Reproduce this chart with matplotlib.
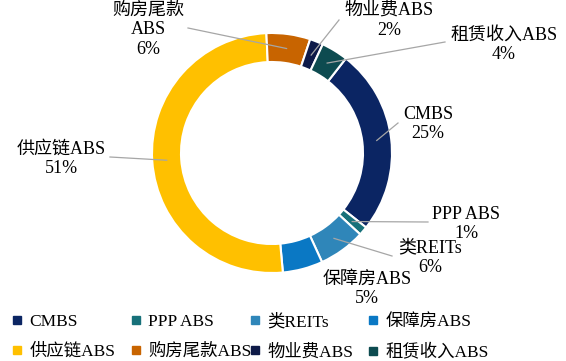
import numpy as np
import matplotlib
matplotlib.use("Agg")
import matplotlib.pyplot as plt
from matplotlib.lines import Line2D

W, H = 566, 361
FONT = ["Liberation Serif", "Noto Sans CJK SC"]
plt.rcParams["font.family"] = FONT

# data (share of issuance, %)
categories = ["CMBS", "PPP ABS", "类REITs", "保障房ABS",
              "供应链ABS", "购房尾款ABS", "物业费ABS", "租赁收入ABS"]
values = [25.1, 1.2, 6.3, 5.4, 50.7, 5.9, 1.8, 3.6]
colors = ["#0B2563", "#17717A", "#2F86B9", "#0A78C4",
          "#FFC000", "#C86400", "#0E1A48", "#0D4B50"]

# label layout in pixel coords: text block centre and leader line start
label_text_pos = [(428, 124), (466, 224), (430, 258), (367, 289),
                  (61, 159), (148, 30), (389, 21), (504, 45)]
label_line_pos = [(398, 123), (428, 222), (392, 256), None,
                  (110, 157), (188, 28), (339, 20), (445, 42)]
label_breaks = {"购房尾款ABS": "购房尾款\nABS"}

CX, CY = 272, 153
R_OUT, RING = 120, 29


def to_ax(x, y):
    return x, H - y


fig = plt.figure(figsize=(W / 100, H / 100), dpi=100)
ax = fig.add_axes([0, 0, 1, 1])

wedges, _ = ax.pie(values, colors=colors, startangle=52, counterclock=False,
                   radius=R_OUT, center=to_ax(CX, CY),
                   wedgeprops=dict(width=RING, edgecolor="white", linewidth=1.5))
ax.set_xlim(0, W)
ax.set_ylim(0, H)
ax.set_aspect("equal")
ax.axis("off")

total = sum(values)
r_mid = R_OUT - RING / 2
for w, name, v, tpos, lpos in zip(wedges, categories, values,
                                  label_text_pos, label_line_pos):
    mid = np.deg2rad((w.theta1 + w.theta2) / 2)
    px = CX + r_mid * np.cos(mid)
    py = CY - r_mid * np.sin(mid)
    if lpos is not None:
        x0, y0 = to_ax(*lpos)
        x1, y1 = to_ax(px, py)
        ax.plot([x0, x1], [y0, y1], color="#A6A6A6", lw=0.9, zorder=3)
    txt = label_breaks.get(name, name) + f"\n{v / total * 100:.0f}%"
    ax.text(*to_ax(*tpos), txt, ha="center", va="center", fontsize=13,
            linespacing=1.2, color="black", zorder=4)

# legend: 4 columns x 2 rows
col_x = [12, 131, 250, 368]
for c in range(4):
    idx = [c, c + 4]
    handles = [Line2D([], [], marker="s", linestyle="none", markersize=6,
                      markerfacecolor=colors[i], markeredgecolor=colors[i])
               for i in idx]
    leg = fig.legend(handles, [categories[i] for i in idx],
                     loc="upper left", bbox_to_anchor=(col_x[c] / W, 1 - 314 / H),
                     frameon=False, fontsize=12.5, handlelength=0.6,
                     handletextpad=0.4, labelspacing=0.78, borderpad=0,
                     borderaxespad=0)
    for t in leg.get_texts():
        t.set_color("black")

fig.savefig("out.png", dpi=100)
